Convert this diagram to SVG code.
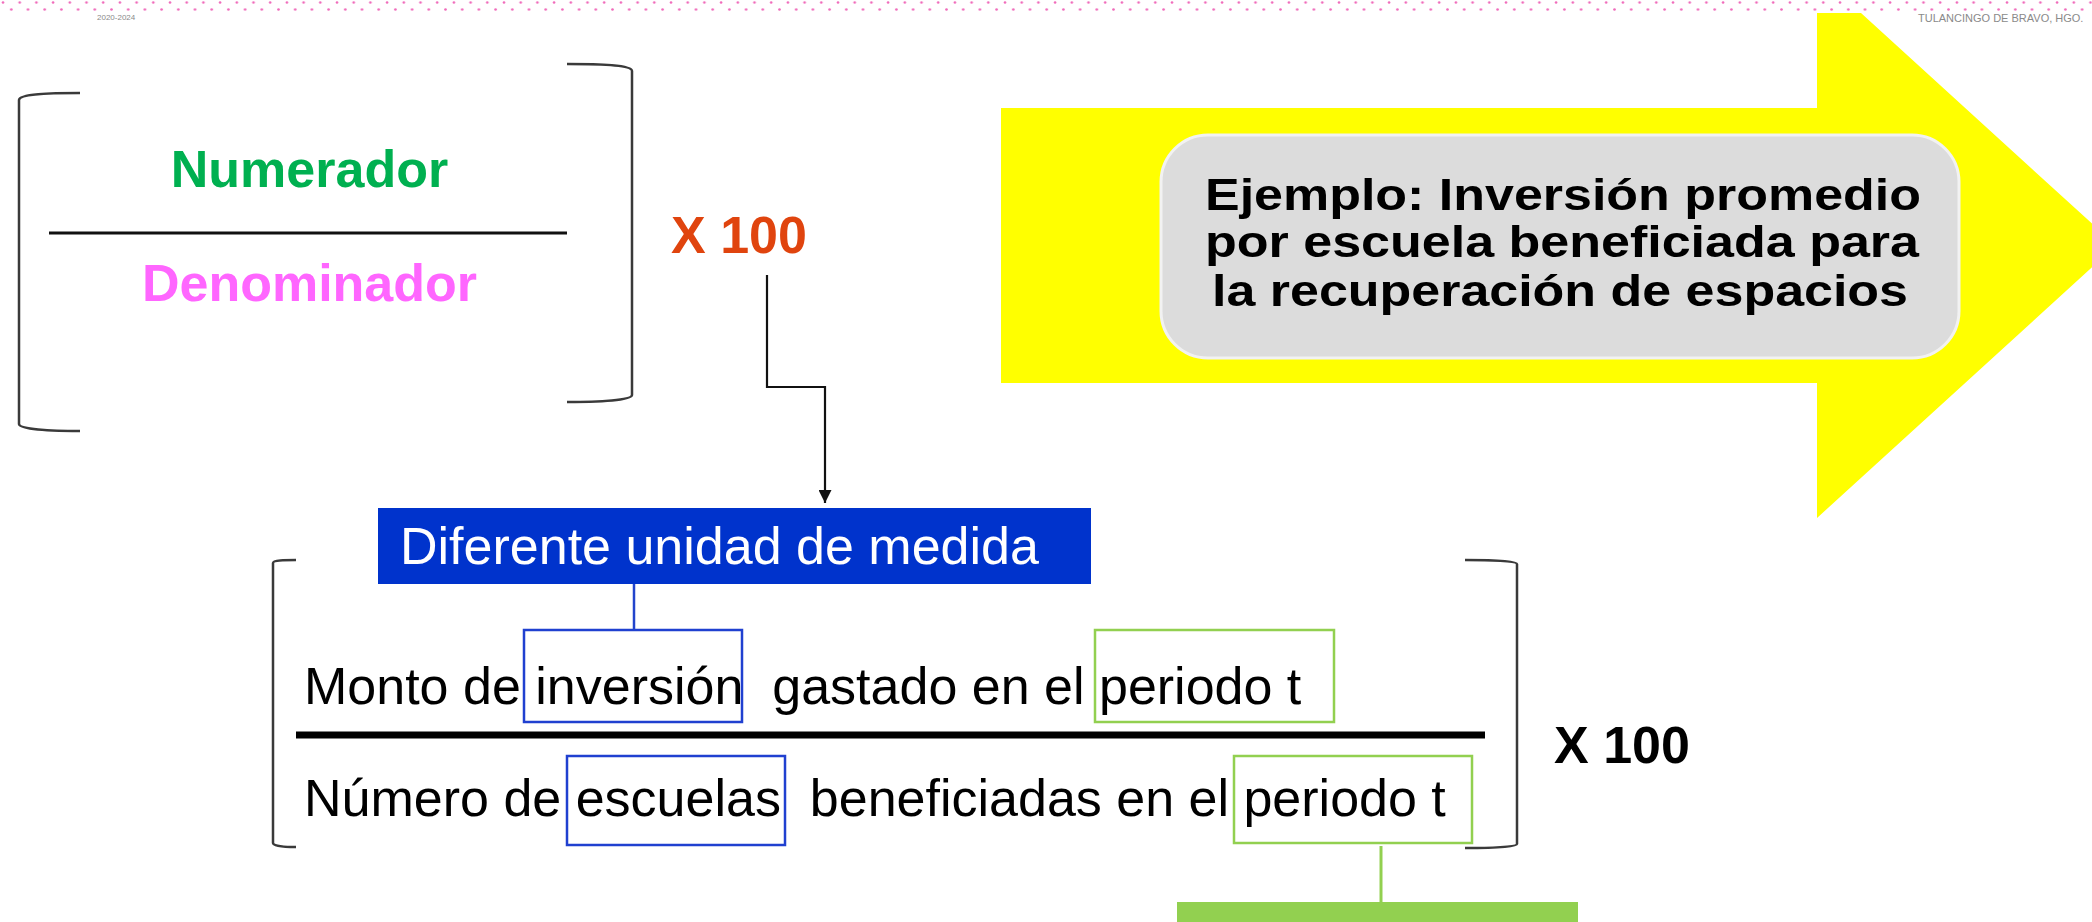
<svg xmlns="http://www.w3.org/2000/svg" width="2092" height="922" viewBox="0 0 2092 922">
<defs>
<pattern id="dots" x="0" y="0" width="16.7" height="14" patternUnits="userSpaceOnUse">
<circle cx="3" cy="2.5" r="1.3" fill="#f06aba"/>
<circle cx="11.3" cy="9.5" r="1.3" fill="#f06aba"/>
</pattern>
<marker id="arr" viewBox="0 0 10 10" refX="10" refY="5" markerWidth="15" markerHeight="13" orient="auto" markerUnits="userSpaceOnUse">
<path d="M0,0 L10,5 L0,10 z" fill="#111"/>
</marker>
<style>
.br{fill:none;stroke:#3a3a3a;stroke-width:2.5}
.t{font-family:"Liberation Sans",Arial,sans-serif;font-size:52px}
.b{font-weight:bold}
.ej{font-family:"Liberation Sans",Arial,sans-serif;font-size:45px;font-weight:bold}
.bluebox{fill:none;stroke:#2040d0;stroke-width:2.5}
.greenbox{fill:none;stroke:#92d050;stroke-width:2.5}
.small{font-family:"Liberation Sans",Arial,sans-serif;fill:#8a8a8a}
</style>
</defs>
<rect width="2092" height="922" fill="#ffffff"/>

<g id="header">
<rect x="0" y="0" width="2092" height="13" fill="url(#dots)"/>
<text class="small" x="97" y="20" font-size="8">2020-2024</text>
<text class="small" x="1918" y="22" font-size="11">TULANCINGO DE BRAVO, HGO.</text>
</g>

<g id="arrow-ejemplo">
<polygon points="1001,108 1817,108 1817,13 1861,13 2116,245.5 1817,518 1817,383 1001,383" fill="#ffff00"/>
<rect x="1161" y="135" width="798" height="223" rx="47" ry="47" fill="#dcdcdc" stroke="#f2f2f2" stroke-width="3"/>
<text class="ej" fill="#000">
<tspan x="1205" y="210" textLength="716" lengthAdjust="spacingAndGlyphs">Ejemplo: Inversión promedio</tspan>
<tspan x="1205" y="257" textLength="714" lengthAdjust="spacingAndGlyphs">por escuela beneficiada para</tspan>
<tspan x="1212" y="306" textLength="696" lengthAdjust="spacingAndGlyphs">la recuperación de espacios</tspan>
</text>
</g>

<g id="general-formula">
<path class="br" d="M80,93 C50,93 19,94 19,100 L19,424 C19,429 50,431 80,431"/>
<path class="br" d="M567,64 C600,64 632,65 632,71 L632,395 C632,400 600,402 567,402"/>
<line x1="49" y1="233" x2="567" y2="233" stroke="#111" stroke-width="3"/>
<text class="t b" x="309.5" y="187" text-anchor="middle" fill="#00b050">Numerador</text>
<text class="t b" x="309.5" y="301" text-anchor="middle" fill="#ff66ff">Denominador</text>
</g>

<g id="x100-orange">
<text class="t b" x="671" y="253" fill="#e0440e">X 100</text>
</g>

<g id="diferente-unidad">
<rect x="378" y="508" width="713" height="76" fill="#0033cc"/>
<text class="t" x="400" y="564" fill="#ffffff">Diferente unidad de medida</text>
</g>

<g id="example-formula">
<path class="br" d="M296,560 C285,560 273,560 273,563 L273,843 C273,846 285,847 296,847"/>
<path class="br" d="M1465,560 C1490,560 1517,561 1517,564 L1517,844 C1517,847 1490,848 1465,848"/>
<text class="t" x="304" y="704" xml:space="preserve" fill="#000">Monto de inversión  gastado en el periodo t</text>
<line x1="296" y1="735" x2="1485" y2="735" stroke="#000" stroke-width="7"/>
<text class="t" x="304" y="816" xml:space="preserve" fill="#000">Número de escuelas  beneficiadas en el periodo t</text>
</g>

<g id="box-inversion"><rect class="bluebox" x="524" y="630" width="218" height="92"/></g>
<g id="box-periodo-num"><rect class="greenbox" x="1095" y="630" width="239" height="92"/></g>
<g id="box-escuelas"><rect class="bluebox" x="567" y="756" width="218" height="89"/></g>
<g id="box-periodo-den"><rect class="greenbox" x="1234" y="756" width="238" height="87"/></g>

<g id="x100-black">
<text class="t b" x="1554" y="763" fill="#000">X 100</text>
</g>

<g id="green-box">
<rect x="1177" y="902" width="401" height="30" fill="#92d050"/>
</g>

<g id="connectors">
<polyline points="767,275 767,387 825,387 825,503" fill="none" stroke="#111" stroke-width="2.2" marker-end="url(#arr)"/>
<line x1="634" y1="584" x2="634" y2="630" stroke="#2244cc" stroke-width="2.5"/>
<line x1="1381" y1="846" x2="1381" y2="902" stroke="#92d050" stroke-width="3"/>
</g>
</svg>
